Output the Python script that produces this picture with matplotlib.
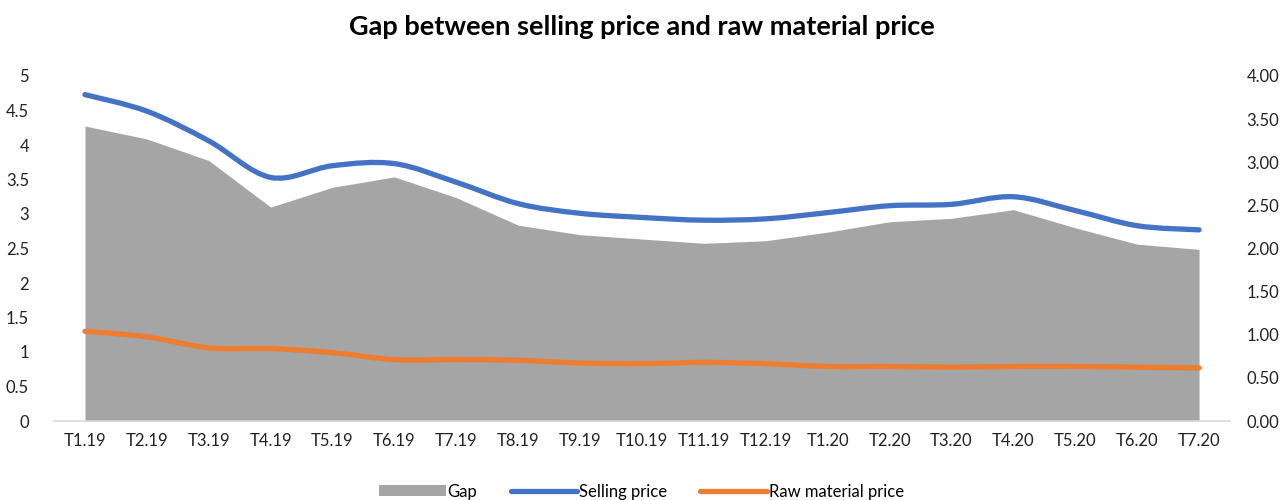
import numpy as np
import matplotlib
matplotlib.use("Agg")
import matplotlib.pyplot as plt
from matplotlib.path import Path
from matplotlib.patches import PathPatch, Patch
from matplotlib.lines import Line2D

plt.rcParams['font.family'] = ['Lato', 'DejaVu Sans']

# --- data ---
months = ['T1.19', 'T2.19', 'T3.19', 'T4.19', 'T5.19', 'T6.19', 'T7.19', 'T8.19',
          'T9.19', 'T10.19', 'T11.19', 'T12.19', 'T1.20', 'T2.20', 'T3.20', 'T4.20',
          'T5.20', 'T6.20', 'T7.20']
selling = [4.73, 4.49, 4.06, 3.53, 3.70, 3.73, 3.46, 3.15, 3.01, 2.95, 2.91, 2.93,
           3.02, 3.12, 3.14, 3.25, 3.05, 2.83, 2.77]
raw_material = [1.30, 1.22, 1.06, 1.05, 0.99, 0.89, 0.89, 0.88, 0.84, 0.83, 0.85, 0.83,
                0.79, 0.79, 0.78, 0.79, 0.79, 0.78, 0.77]
gap = [3.42, 3.27, 3.02, 2.48, 2.71, 2.83, 2.59, 2.27, 2.16, 2.11, 2.06, 2.09,
       2.19, 2.31, 2.35, 2.45, 2.24, 2.05, 1.99]

left_ticks = [0, 0.5, 1, 1.5, 2, 2.5, 3, 3.5, 4, 4.5, 5]
right_ticks = [0, 0.5, 1, 1.5, 2, 2.5, 3, 3.5, 4]

BLUE = '#4472C4'
ORANGE = '#ED7D31'
GREY = '#A5A5A5'


def smooth_path(xs, ys):
    # excel-like smoothed line: cubic bezier through the points
    pts = np.column_stack([xs, ys]).astype(float)
    n = len(pts)
    verts = [pts[0]]
    codes = [Path.MOVETO]
    for i in range(n - 1):
        p0 = pts[max(i - 1, 0)]
        p1 = pts[i]
        p2 = pts[i + 1]
        p3 = pts[min(i + 2, n - 1)]
        c1 = p1 + (p2 - p0) / 6.0
        c2 = p2 - (p3 - p1) / 6.0
        verts += [c1, c2, p2]
        codes += [Path.CURVE4] * 3
    return Path(verts, codes)


fig = plt.figure(figsize=(12.83, 5.0), dpi=100)
ax = fig.add_axes([0.0421, 0.158, 0.9166, 0.69])
ax2 = ax.twinx()

x = np.arange(len(months))

# gap area on secondary axis
ax2.fill_between(x, 0, gap, color=GREY, linewidth=0)
ax2.set_ylim(0, 4)
ax2.set_yticks(right_ticks)
ax2.set_yticklabels([f'{v:.2f}' for v in right_ticks])

# smoothed lines on primary axis
for vals, col in [(selling, BLUE), (raw_material, ORANGE)]:
    ax.add_patch(PathPatch(smooth_path(x, vals), facecolor='none', edgecolor=col,
                           linewidth=3.8, capstyle='round', joinstyle='round'))
ax.set_ylim(0, 5)
ax.set_xlim(-0.5, len(months) - 0.5)
ax.set_yticks(left_ticks)
ax.set_yticklabels([f'{v:g}' for v in left_ticks])
ax.set_xticks(x)
ax.set_xticklabels(months)

ax.set_zorder(ax2.get_zorder() + 1)
ax.patch.set_visible(False)

for a in (ax, ax2):
    for s in a.spines.values():
        s.set_visible(False)
    a.tick_params(length=0, labelsize=12, colors='#222222')
ax.tick_params(axis='y', pad=18)
ax2.tick_params(axis='y', pad=12)
ax.tick_params(axis='x', pad=9)
ax.spines['bottom'].set_visible(True)
ax.spines['bottom'].set_color('#D9D9D9')
ax.spines['bottom'].set_linewidth(1.2)

fig.text(0.5, 0.946, 'Gap between selling price and raw material price',
         ha='center', va='center', fontsize=19.5, fontweight='bold')

handles = [Patch(facecolor=GREY, edgecolor='none'),
           Line2D([], [], color=BLUE, linewidth=3.8, solid_capstyle='round'),
           Line2D([], [], color=ORANGE, linewidth=3.8, solid_capstyle='round')]
fig.legend(handles, ['Gap', 'Selling price', 'Raw material price'], loc='center',
           bbox_to_anchor=(0.5, 0.017), ncol=3, frameon=False, fontsize=12,
           handlelength=4.0, handletextpad=0.1, columnspacing=2.0,
           handleheight=0.6)

fig.savefig('out.png', dpi=100)
